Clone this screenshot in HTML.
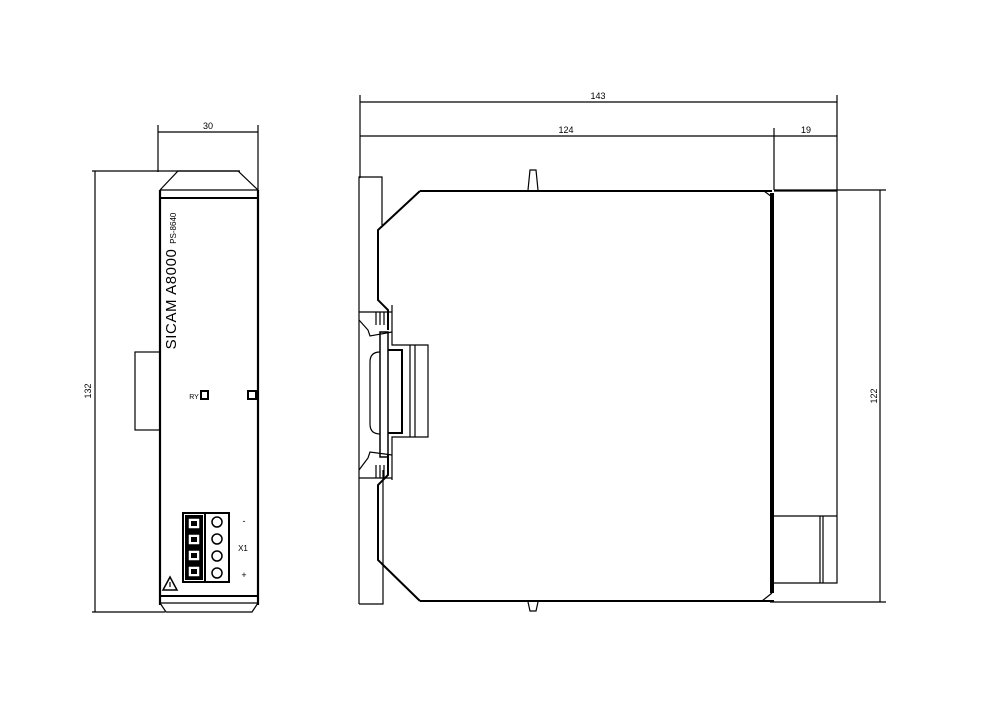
<!DOCTYPE html>
<html><head><meta charset="utf-8"><style>html,body{margin:0;padding:0;background:#fff}svg{display:block}</style></head>
<body>
<svg width="1000" height="717" viewBox="0 0 1000 717" xmlns="http://www.w3.org/2000/svg" font-family="Liberation Sans, sans-serif">
<g fill="none" stroke="#000" stroke-width="1.2">
<!-- LEFT VIEW dims -->
<line x1="158" y1="125" x2="158" y2="172"/>
<line x1="258" y1="125" x2="258" y2="190"/>
<line x1="158" y1="132" x2="258" y2="132"/>
<line x1="92" y1="171" x2="240" y2="171"/>
<line x1="92" y1="612" x2="165" y2="612"/>
<line x1="95" y1="171" x2="95" y2="612"/>
<!-- left body -->
<polyline points="160,190 178,171 238,171 258,190"/>
<line x1="160" y1="190" x2="258" y2="190" />
<line x1="160" y1="198" x2="258" y2="198" stroke-width="2"/>
<line x1="160" y1="190" x2="160" y2="605" stroke-width="2.2"/>
<line x1="258" y1="190" x2="258" y2="605" stroke-width="2.2"/>
<line x1="160" y1="596" x2="258" y2="596" stroke-width="2"/>
<polyline points="160,603 166,612 252,612 258,603"/>
<line x1="160" y1="603" x2="258" y2="603"/>
<rect x="135" y="352" width="25" height="78"/>
<rect x="201" y="391" width="7" height="8" stroke-width="2"/>
<rect x="248" y="391" width="8" height="8" stroke-width="2"/>
<!-- terminal -->
<rect x="183" y="513" width="46" height="69" stroke-width="2"/>
<line x1="205" y1="513" x2="205" y2="582" stroke-width="2"/>
<rect x="185" y="515" width="18" height="65" fill="#000" stroke="none"/>
<rect x="188" y="518" width="12" height="11" fill="#fff" stroke-width="1.5"/>
<rect x="188" y="534" width="12" height="11" fill="#fff" stroke-width="1.5"/>
<rect x="188" y="550" width="12" height="11" fill="#fff" stroke-width="1.5"/>
<rect x="188" y="566" width="12" height="11" fill="#fff" stroke-width="1.5"/>
<rect x="191" y="521" width="6" height="5" fill="#000" stroke="none"/>
<rect x="191" y="537" width="6" height="5" fill="#000" stroke="none"/>
<rect x="191" y="553" width="6" height="5" fill="#000" stroke="none"/>
<rect x="191" y="569" width="6" height="5" fill="#000" stroke="none"/>
<circle cx="217" cy="522" r="5" stroke-width="1.5"/>
<circle cx="217" cy="539" r="5" stroke-width="1.5"/>
<circle cx="217" cy="556" r="5" stroke-width="1.5"/>
<circle cx="217" cy="573" r="5" stroke-width="1.5"/>
<path d="M163,590 L170,577 L177,590 Z" stroke-width="1.5"/>
<line x1="170" y1="582" x2="170" y2="587"/>
<!-- RIGHT VIEW dims -->
<line x1="360" y1="95" x2="360" y2="178"/>
<line x1="837" y1="95" x2="837" y2="190"/>
<line x1="774" y1="128" x2="774" y2="190"/>
<line x1="360" y1="102" x2="837" y2="102"/>
<line x1="360" y1="136" x2="837" y2="136"/>
<line x1="774" y1="190" x2="886" y2="190"/>
<line x1="770" y1="602" x2="886" y2="602"/>
<line x1="880" y1="190" x2="880" y2="602"/>
<!-- rail plate -->
<polyline points="359,604 359,177 382,177 382,225"/>
<polyline points="359,604 383,604 383,470"/>
<!-- body -->
<polyline points="420,191 378,230 378,300 388,310 388,330" stroke-width="2"/>
<polyline points="420,601 378,560 378,485 388,475 388,455" stroke-width="2"/>
<line x1="420" y1="191" x2="772" y2="191" stroke-width="2"/>
<line x1="420" y1="601" x2="774" y2="601" stroke-width="2"/>
<line x1="772" y1="193" x2="772" y2="593" stroke-width="4"/>
<polyline points="772,593 762,601"/>
<polyline points="764,191 772,197"/>
<polyline points="774,191 837,191 837,583 774,583"/>
<line x1="774" y1="516" x2="837" y2="516"/>
<line x1="820" y1="516" x2="820" y2="583"/>
<line x1="823" y1="516" x2="823" y2="583"/>
<!-- tabs -->
<polyline points="528,190 530,170 536,170 538,190"/>
<polyline points="528,602 530,611 536,611 538,602"/>
<!-- DIN clip -->
<polyline points="359,312 392,312"/>
<line x1="376" y1="312" x2="376" y2="325"/>
<line x1="380" y1="312" x2="380" y2="325"/>
<line x1="384" y1="312" x2="384" y2="325"/>
<polyline points="359,320 368,330 370,336 392,332"/>
<polyline points="392,305 392,345 428,345 428,437 392,437 392,480"/>
<line x1="410" y1="345" x2="410" y2="437"/>
<line x1="415" y1="345" x2="415" y2="437"/>
<rect x="380" y="332" width="8" height="125" stroke-width="1.5"/>
<polyline points="388,350 402,350 402,433 388,433" stroke-width="2"/>
<path d="M380,352 Q370,352 370,362 L370,424 Q370,434 380,434"/>
<polyline points="359,478 392,478"/>
<line x1="376" y1="465" x2="376" y2="478"/>
<line x1="380" y1="465" x2="380" y2="478"/>
<line x1="384" y1="465" x2="384" y2="478"/>
<polyline points="359,470 368,458 370,452 392,455"/>
</g>
<g fill="#000" font-size="9" text-anchor="middle">
<text x="208" y="129">30</text>
<text x="598" y="99">143</text>
<text x="566" y="133">124</text>
<text x="806" y="133">19</text>
<text transform="translate(91,391) rotate(-90)">132</text>
<text transform="translate(877,396) rotate(-90)">122</text>
<text x="194" y="399" font-size="7">RY</text>
<text x="244" y="524" font-size="9">-</text>
<text x="243" y="551" font-size="8">X1</text>
<text x="244" y="578" font-size="9">+</text>
<text transform="translate(176,281) rotate(-90)" font-size="15" letter-spacing="0.6" text-anchor="middle">SICAM  A8000 <tspan font-size="8" letter-spacing="0">PS-8640</tspan></text>
</g>
</svg>
</body></html>
